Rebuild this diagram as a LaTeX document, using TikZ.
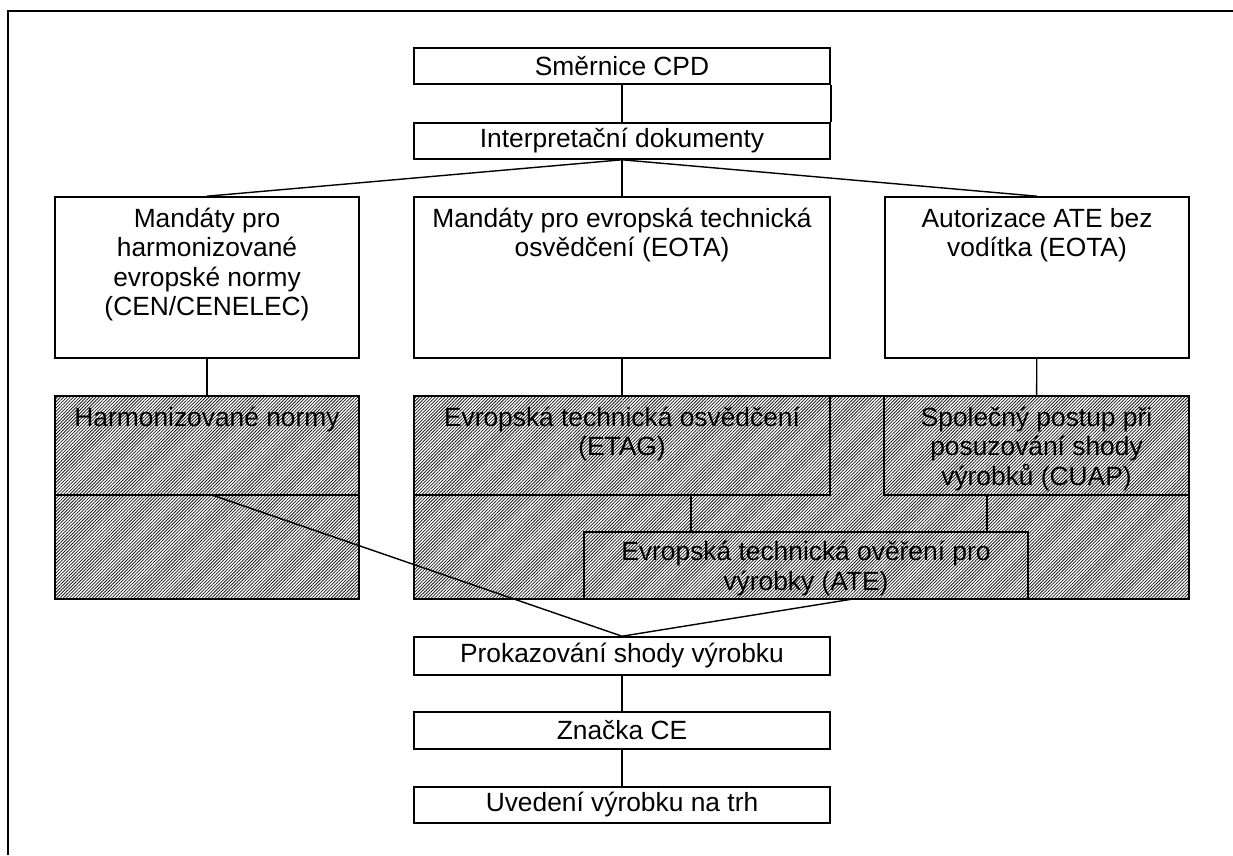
\documentclass[tikz,border=0pt]{standalone}
\usepackage{fontspec}
\setmainfont{Liberation Sans}
\usetikzlibrary{fit, patterns.meta}

\begin{document}
\begin{tikzpicture}[x=0.02cm, y=-0.02cm,
	font=\fontsize{15pt}{16.8pt}\selectfont,
	box/.style={draw, line width=0.9pt, inner sep=0pt},
	hatch/.style={box, pattern={Lines[angle=45, distance=1.3pt, line width=0.45pt]}, pattern color=black!90},
	lbl/.style={anchor=north, align=center, inner sep=0pt, yshift=-6.5pt},
	mid/.style={inner sep=0pt},
	link/.style={line width=0.8pt}]
	\useasboundingbox (0,0) rectangle (1233,855);
	\draw[line width=1.1pt] (1233,11) -- (8,11) -- (8,855);

	% upper chain
	\node[box, fit={(414,48) (830,84)}] (cpd) {};
	\node[box, fit={(414,123) (830,159)}] (interp) {};
	\node[mid] (cpdt) at (cpd.center) {Směrnice CPD};
	\node[mid] (interpt) at (interp.center) {Interpretační dokumenty};

	\node[box, fit={(55,197) (359,358)}] (man1) {};
	\node[box, fit={(414,197) (830,358)}] (man2) {};
	\node[box, fit={(885,197) (1189,358)}] (man3) {};
	\node[lbl] (man1t) at (man1.north) {Mandáty pro\\harmonizované\\evropské normy\\(CEN/CENELEC)};
	\node[lbl] (man2t) at (man2.north) {Mandáty pro evropská technická\\osvědčení (EOTA)};
	\node[lbl] (man3t) at (man3.north) {Autorizace ATE bez\\vodítka (EOTA)};

	% hatched blocks
	\node[hatch, fit={(55,396) (359,599)}] (leftblk) {};
	\node[hatch, fit={(414,396) (1189,599)}] (midblk) {};
	\node[box, fit={(55,396) (359,495)}] (harm) {};
	\node[box, fit={(414,396) (830,495)}] (etag) {};
	\node[box, fit={(884,396) (1189,495)}] (cuap) {};
	\node[box, fit={(584,532) (1028,599)}] (ate) {};
	\node[lbl] (harmt) at (harm.north) {Harmonizované normy};
	\node[lbl] (etagt) at (etag.north) {Evropská technická osvědčení\\(ETAG)};
	\node[lbl] (cuapt) at (cuap.north) {Společný postup při\\posuzování shody\\výrobků (CUAP)};
	\node[lbl, yshift=1pt] (atet) at (ate.north) {Evropská technická ověření pro\\výrobky (ATE)};

	% lower chain
	\node[box, fit={(414,637) (830,675)}] (prok) {};
	\node[box, fit={(414,712) (830,749)}] (znak) {};
	\node[box, fit={(414,787) (830,823)}] (uved) {};
	\node[mid] (prokt) at (prok.center) {Prokazování shody výrobku};
	\node[mid] (znakt) at (znak.center) {Značka CE};
	\node[mid] (uvedt) at (uved.center) {Uvedení výrobku na trh};

	\coordinate (etagout) at (691,495);
	\coordinate (cuapout) at (987,495);
	\coordinate (harmout) at (212,495);
	\coordinate (ateout) at (853,599);

	\draw[link] (cpd) -- (interp);
	\draw[link] (cpd.south east) -- (interp.north east);
	\draw[link] (interp.south) -- (man1.north);
	\draw[link] (interp.south) -- (man2.north);
	\draw[link] (interp.south) -- (man3.north);
	\draw[link] (man1) -- (harm);
	\draw[link] (man2) -- (etag);
	\draw[link] (man3) -- (cuap);
	\draw[link] (etagout) -- (etagout |- ate.north);
	\draw[link] (cuapout) -- (cuapout |- ate.north);
	\draw[link] (harmout) -- (prok.north);
	\draw[link] (ateout) -- (prok.north);
	\draw[link] (prok) -- (znak);
	\draw[link] (znak) -- (uved);

\end{tikzpicture}
\end{document}
